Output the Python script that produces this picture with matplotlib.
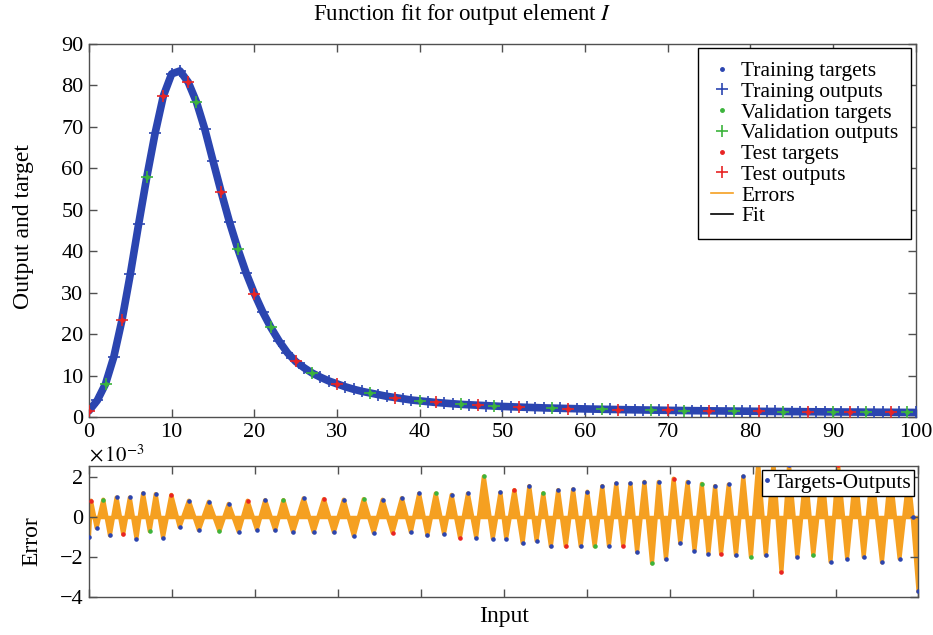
import numpy as np
import matplotlib.pyplot as plt
from matplotlib.lines import Line2D

plt.rcParams['font.family'] = ['Liberation Serif', 'DejaVu Serif']
plt.rcParams['mathtext.fontset'] = 'stix'

# main curve (targets ~ outputs)
x_in = np.arange(0, 101)
y_out = [1.5, 4.0, 8.0, 14.5, 23.5, 34.5, 46.5, 58.0, 68.5, 77.5,
         82.8, 83.5, 80.8, 76.0, 69.5, 61.8, 54.2, 47.0, 40.6, 34.8,
         29.8, 25.4, 21.6, 18.3, 15.5, 13.4, 11.9, 10.6, 9.6, 8.7,
         8.0, 7.3, 6.7, 6.2, 5.8, 5.4, 5.0, 4.7, 4.4, 4.1, 3.9,
         3.7, 3.5, 3.35, 3.2, 3.05, 2.95, 2.85, 2.75, 2.65, 2.55,
         2.47, 2.4, 2.33, 2.27, 2.2, 2.15, 2.1, 2.05, 2.0, 1.95,
         1.91, 1.87, 1.83, 1.8, 1.76, 1.73, 1.7, 1.67, 1.64, 1.61,
         1.58, 1.56, 1.53, 1.51, 1.49, 1.47, 1.45, 1.43, 1.41, 1.39,
         1.37, 1.35, 1.34, 1.32, 1.3, 1.29, 1.27, 1.26, 1.24, 1.23,
         1.21, 1.2, 1.19, 1.17, 1.16, 1.15, 1.14, 1.12, 1.11, 1.1]
val_idx = [2, 7, 13, 18, 22, 27, 34, 40, 45, 49, 56, 62, 68, 72, 78, 84, 90, 94, 99]
test_idx = [0, 4, 9, 12, 16, 20, 25, 30, 37, 42, 47, 52, 58, 64, 70, 75, 81, 87, 92, 97]

# errors (x 1e-3), peaks and troughs
err_x = [0.0, 0.24, 0.92, 1.72, 2.52, 3.32, 4.12, 4.92, 5.72, 6.52,
         7.32, 8.04, 8.92, 9.92, 10.92, 12.04, 13.24, 14.44, 15.72, 16.84,
         18.04, 19.12, 20.24, 21.24, 22.44, 23.44, 24.6, 25.88, 27.08, 28.32,
         29.52, 30.72, 31.92, 33.12, 34.32, 35.4, 36.6, 37.72, 38.8, 39.8,
         40.8, 41.8, 42.8, 43.72, 44.72, 45.68, 46.68, 47.6, 48.68, 49.6,
         50.3, 51.28, 52.28, 53.08, 53.96, 54.76, 55.68, 56.56, 57.48, 58.36,
         59.28, 60.08, 60.96, 61.88, 62.68, 63.56, 64.4, 65.28, 66.08, 66.96,
         67.88, 68.68, 69.56, 70.48, 71.28, 72.16, 73.0, 73.88, 74.68, 75.48,
         76.2, 77.12, 78.0, 78.88, 79.8, 80.68, 81.6, 82.52, 83.48, 84.4,
         85.4, 86.4, 87.32, 88.4, 89.4, 90.32, 91.4, 92.4, 93.4, 94.4,
         95.6, 96.6, 97.72, 98.8, 99.3, 100.0]
err_val = [-1.0, 0.82, -0.55, 0.87, -0.92, 0.98, -0.87, 0.98, -1.08, 1.19,
           -0.71, 1.15, -1.03, 1.11, -0.50, 0.82, -0.66, 0.77, -0.71, 0.66,
           -0.74, 0.82, -0.63, 0.85, -0.66, 0.85, -0.76, 0.94, -0.76, 0.90,
           -0.76, 0.87, -0.95, 0.90, -0.79, 0.87, -0.79, 0.95, -0.76, 1.18,
           -0.92, 1.18, -0.84, 1.11, -1.03, 1.18, -1.03, 2.03, -1.08, 1.23,
           -1.08, 1.35, -1.31, 1.55, -1.19, 1.19, -1.47, 1.35, -1.47, 1.39,
           -1.47, 1.27, -1.47, 1.55, -1.44, 1.68, -1.44, 1.68, -1.76, 1.76,
           -2.32, 1.76, -2.11, 1.92, -1.31, 1.76, -1.68, 1.66, -1.84, 1.55,
           -1.84, 1.63, -1.92, 2.03, -2.0, 2.7, -1.92, 2.7, -2.76, 2.6,
           -2.0, 2.2, -1.92, 2.2, -2.24, 2.6, -2.08, 2.2, -2.0, 2.2,
           -2.27, 2.19, -2.08, 1.95, 0.0, -3.7]
err_val_idx = [3, 10, 18, 25, 33, 41, 47, 55, 62, 70, 77, 84, 92, 99]
err_test_idx = [1, 6, 13, 21, 29, 36, 44, 51, 58, 66, 73, 80, 88, 95, 103]

blue = '#2b45b0'
green = '#3cb43c'
red = '#e82424'
orange = '#f5a021'
axc = '#505050'

y_out = np.array(y_out)
sets = np.array(['train'] * len(x_in), dtype=object)
sets[val_idx] = 'val'
sets[test_idx] = 'test'

err_x = np.array(err_x)
err_val = np.array(err_val)
esets = np.array(['train'] * len(err_x), dtype=object)
esets[err_val_idx] = 'val'
esets[err_test_idx] = 'test'

fig = plt.figure(figsize=(9.33, 6.35), dpi=100)
ax1 = fig.add_axes([0.0954, 0.3433, 0.886, 0.5874])
ax2 = fig.add_axes([0.0954, 0.0598, 0.889, 0.2063])

# top: function fit
ax1.plot(x_in, y_out, color='black', lw=1, zorder=1)
ax1.plot(x_in, y_out, color=blue, lw=5.5, solid_capstyle='round', zorder=2)
for name, col, lab in [('train', blue, 'Training'), ('val', green, 'Validation'), ('test', red, 'Test')]:
    m = sets == name
    ax1.plot(x_in[m], y_out[m], '.', color=col, ms=5, ls='none', label=lab + ' targets', zorder=3)
    ax1.plot(x_in[m], y_out[m], '+', color=col, ms=8, mew=1.2, ls='none', label=lab + ' outputs', zorder=3)

handles, labels = ax1.get_legend_handles_labels()
handles += [Line2D([], [], color=orange, lw=1.2), Line2D([], [], color='black', lw=1.2)]
labels += ['Errors', 'Fit']
leg = ax1.legend(handles, labels, loc='upper right', fontsize=15.5, frameon=True,
                 fancybox=False, edgecolor='black', framealpha=1, labelspacing=0.03,
                 handlelength=1.0, handletextpad=0.4, borderpad=0.6, borderaxespad=0.2)
leg.get_frame().set_linewidth(1.0)

ax1.set_xlim(0, 100)
ax1.set_ylim(0, 90)
ax1.set_xticks(range(0, 101, 10))
ax1.set_yticks(range(0, 91, 10))
ax1.set_ylabel('Output and target', fontsize=17)
ax1.yaxis.set_label_coords(-0.066, 0.51)

# bottom: errors
ax2.fill_between(err_x, 0, err_val, color=orange, lw=0, zorder=1)
ax2.plot(err_x, err_val, color=orange, lw=3, zorder=1)
ax2.axhline(0, color=orange, lw=2.5, zorder=1)
for name, col in [('train', blue), ('val', green), ('test', red)]:
    m = esets == name
    ax2.plot(err_x[m], err_val[m], '.', color=col, ms=4.5, ls='none',
             label='Targets-Outputs' if name == 'train' else None, zorder=3)
leg2 = ax2.legend(loc='upper right', fontsize=15.5, frameon=True, fancybox=False,
                  edgecolor='black', framealpha=1, handlelength=0.3, handletextpad=0.15,
                  borderpad=0.12, borderaxespad=0.2, markerscale=1.1)
leg2.get_frame().set_linewidth(1.0)

ax2.set_xlim(0, 100)
ax2.set_ylim(-4, 2.55)
ax2.set_xticks(range(0, 101, 10))
ax2.set_yticks([-4, -2, 0, 2])
ax2.set_ylabel('Error', fontsize=17)
ax2.yaxis.set_label_coords(-0.056, 0.43)
ax2.set_xlabel('Input', fontsize=17)
ax2.xaxis.set_label_coords(0.5, -0.065)
ax2.text(0.0, 1.0, r'$\times\,10^{-3}$', transform=ax2.transAxes, fontsize=15,
         ha='left', va='bottom')

for ax in (ax1, ax2):
    ax.tick_params(direction='in', top=True, right=True, length=6, width=1,
                   color=axc, labelsize=16, pad=4)
    for s in ax.spines.values():
        s.set_color(axc)
        s.set_linewidth(1.0)
ax2.tick_params(labelbottom=False)

fig.text(0.495, 0.977, r'Function fit for output element $I$', fontsize=16.5,
         ha='center', va='center')

fig.savefig('out.png', dpi=100)
